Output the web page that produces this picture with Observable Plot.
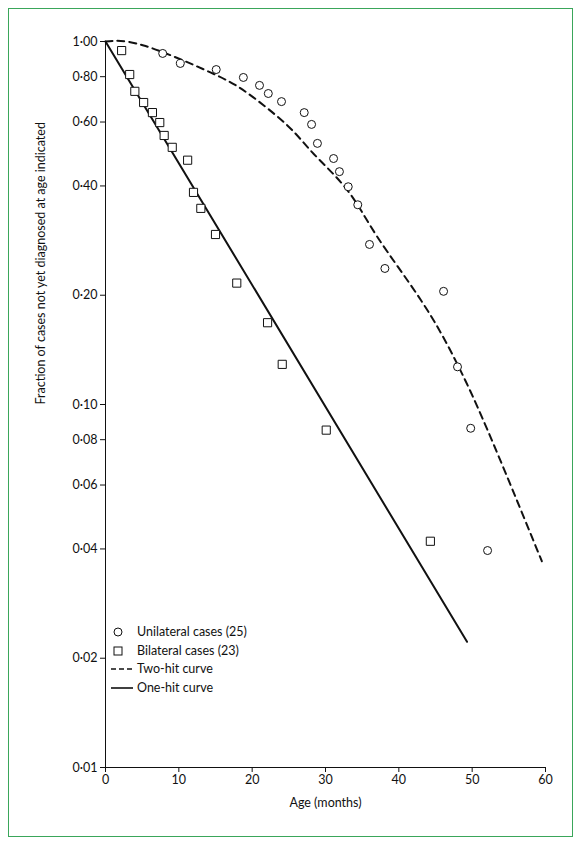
<!DOCTYPE html>
<html><head><meta charset="utf-8">
<script src="https://cdn.jsdelivr.net/npm/d3@7"></script>
<script src="https://cdn.jsdelivr.net/npm/@observablehq/plot@0.6"></script>
<style>
body{margin:0;background:#fff;font-family:Lato,"Open Sans",sans-serif;}
#wrap{position:relative;width:583px;height:847px;}
#border{position:absolute;left:8px;top:8px;width:565px;height:829px;border:1px solid #3aa65a;box-sizing:border-box;pointer-events:none}
#legend{position:absolute;left:111px;top:623px;font-size:12.5px;color:#111;line-height:18.5px}
#legend div{display:flex;align-items:center}
#legend svg{width:22px;height:12px;margin-right:4px}
</style></head>
<body><div id="wrap"><div id="vis"></div><div id="border"></div>
<div id="legend">
<div><svg><circle cx="7" cy="6" r="4" fill="none" stroke="#111"/></svg>Unilateral cases (25)</div>
<div><svg><rect x="3" y="2" width="8" height="8" fill="none" stroke="#111"/></svg>Bilateral cases (23)</div>
<div><svg><line x1="0" y1="6" x2="22" y2="6" stroke="#111" stroke-width="1.6" stroke-dasharray="5,3"/></svg>Two-hit curve</div>
<div><svg><line x1="0" y1="6" x2="22" y2="6" stroke="#111" stroke-width="1.6"/></svg>One-hit curve</div>
</div></div>
<script>
// unilateral cases (circles)
const uniAge = [7.8,10.2,15.1,18.8,21.0,22.2,24.0,27.1,28.1,28.9,31.1,31.9,33.1,34.4,36.0,38.1,46.1,48.0,49.8,52.1]
const uniFrac = [0.927,0.87,0.837,0.796,0.757,0.719,0.683,0.637,0.591,0.524,0.476,0.438,0.398,0.355,0.276,0.237,0.205,0.127,0.086,0.0396]
// bilateral cases (squares)
const biAge = [2.2,3.3,4.0,5.2,6.4,7.4,8.0,9.1,11.2,12.0,13.0,15.0,17.9,22.1,24.1,30.1,44.3]
const biFrac = [0.944,0.811,0.729,0.679,0.637,0.598,0.551,0.511,0.471,0.384,0.347,0.294,0.216,0.168,0.129,0.085,0.042]
// curves
const twoHitAge = [0,5.2,14.3,19.4,24.8,28.4,33.0,37.1,43.0,47.5,52.1,59.5]
const twoHitFrac = [1.0,0.975,0.822,0.72,0.587,0.49,0.389,0.289,0.194,0.135,0.085,0.037]
const oneHitAge = [0,49.3]
const oneHitFrac = [1.0,0.0222]
const yTicks = [1,0.8,0.6,0.4,0.2,0.1,0.08,0.06,0.04,0.02,0.01]
const xTicks = [0,10,20,30,40,50,60]

const zip = (a,b) => a.map((x,i) => ({x, y: b[i]}))
const fmt = d => d3.format(".2f")(d).replace(".", "·")

const plot = Plot.plot({
  width: 583, height: 847,
  marginLeft: 105, marginRight: 38, marginTop: 41, marginBottom: 80,
  style: {fontFamily: "Lato, 'Open Sans', sans-serif", fontSize: "12.5px", color: "#111"},
  x: {domain: [0, 60], label: null},
  y: {type: "log", domain: [0.01, 1], label: null},
  marks: [
    Plot.axisX(xTicks, {tickSize: 5, tickPadding: 3, fontSize: 12.5}),
    Plot.axisY(yTicks, {tickFormat: fmt, text: fmt, tickSize: 5, tickPadding: 3, fontSize: 12.5}),
    Plot.ruleX([0], {stroke: "#111"}),
    Plot.ruleY([0.01], {stroke: "#111"}),
    Plot.line(zip(twoHitAge, twoHitFrac), {x: "x", y: "y", curve: "natural", stroke: "#111", strokeWidth: 2, strokeDasharray: "7,5"}),
    Plot.line(zip(oneHitAge, oneHitFrac), {x: "x", y: "y", stroke: "#111", strokeWidth: 2}),
    Plot.dot(zip(uniAge, uniFrac), {x: "x", y: "y", r: 4, stroke: "#111", fill: "white", strokeWidth: 1}),
    Plot.dot(zip(biAge, biFrac), {x: "x", y: "y", symbol: "square", r: 4.6, stroke: "#111", fill: "white", strokeWidth: 1}),
    Plot.text(["Age (months)"], {frameAnchor: "bottom", dy: 39, fontSize: 12.5}),
    Plot.text(["Fraction of cases not yet diagnosed at age indicated"], {frameAnchor: "left", dx: -65, rotate: -90, fontSize: 12.5})
  ]
})
document.querySelector("#vis").append(plot)
</script></body></html>
